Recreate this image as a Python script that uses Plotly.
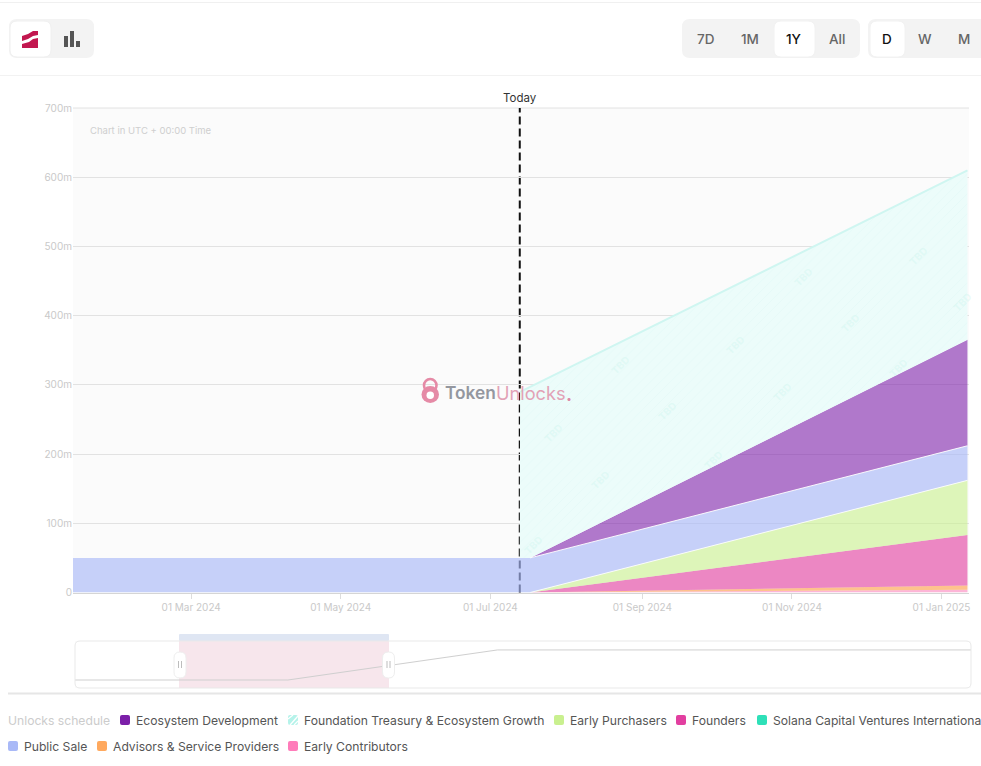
import numpy as np
import plotly.graph_objects as go

# ---------- data ----------
dates = ["2024-01-12", "2024-07-13 00:00", "2024-07-13 03:00", "2024-07-17 06:00", "2025-01-11 14:00"]
early_contributors = [0, 0, 0, 0, 4]
advisors = [0, 0, 0, 0, 6]
founders = [0, 0, 0, 0, 73]
early_purchasers = [0, 0, 0, 0, 79]
solana_capital = [0, 0, 0, 0, 0]
public_sale = [50, 50, 50, 50, 50]
ecosystem_dev = [0, 0, 0, 0, 153]
foundation = [0, 0, 240, 247, 245]

overview_dates = ["2023-07-12", "2024-07-17", "2025-07-17", "2027-10-20"]
overview_vals = [50, 50, 238, 238]

y_ticks = [0, 100, 200, 300, 400, 500, 600, 700]
y_labels = ["0", "100m", "200m", "300m", "400m", "500m", "600m", "700m"]
x_ticks = ["2024-03-01", "2024-05-01", "2024-07-01", "2024-09-01", "2024-11-01", "2025-01-01"]
x_labels = ["01 Mar 2024", "01 May 2024", "01 Jul 2024", "01 Sep 2024", "01 Nov 2024", "01 Jan 2025"]
today = "2024-07-13"

W, H = 981, 766
FONT = "Inter"

def px(x): return x / W
def py(y): return 1 - y / H

shapes, annos = [], []

def rrect(x0, y0, x1, y1, r, fill, line=None, lw=1, layer="below"):
    pts = [
        f"M{px(x0+r)},{py(y0)}", f"L{px(x1-r)},{py(y0)}", f"Q{px(x1)},{py(y0)} {px(x1)},{py(y0+r)}",
        f"L{px(x1)},{py(y1-r)}", f"Q{px(x1)},{py(y1)} {px(x1-r)},{py(y1)}",
        f"L{px(x0+r)},{py(y1)}", f"Q{px(x0)},{py(y1)} {px(x0)},{py(y1-r)}",
        f"L{px(x0)},{py(y0+r)}", f"Q{px(x0)},{py(y0)} {px(x0+r)},{py(y0)}", "Z"]
    shapes.append(dict(type="path", xref="paper", yref="paper", path=" ".join(pts), fillcolor=fill,
                       line=dict(color=line or "rgba(0,0,0,0)", width=lw if line else 0), layer=layer))

def poly(points, fill, layer="above"):
    p = "M" + " L".join(f"{px(a)},{py(b)}" for a, b in points) + " Z"
    shapes.append(dict(type="path", xref="paper", yref="paper", path=p, fillcolor=fill, line=dict(width=0), layer=layer))

def hline(y, x0, x1, color, w=1):
    shapes.append(dict(type="line", xref="paper", yref="paper", x0=px(x0), x1=px(x1), y0=py(y), y1=py(y),
                       line=dict(color=color, width=w), layer="below"))

def text(x, y, s, size=12, color="#555", anchor="left", weight=None, angle=0, family=FONT):
    f = dict(family=family, size=size, color=color)
    if weight: f["weight"] = weight
    annos.append(dict(xref="paper", yref="paper", x=px(x), y=py(y), text=s, showarrow=False, xanchor=anchor,
                      yanchor="middle", font=f, textangle=angle, borderpad=0, borderwidth=0))

# ---------- page furniture ----------
hline(2.5, 0, 981, "#f0f0f0", 1)
hline(75.5, 0, 981, "#f2f2f2", 1)
hline(108, 73, 969, "#e2e2e2", 1)

rrect(9, 19, 94, 58, 8, "#f3f3f3")
rrect(10, 21, 51, 57, 7, "#ffffff", "#f0f0f0")
poly([(22, 41), (22, 36), (28, 34), (33, 31), (38, 31), (38, 35), (33, 36), (28, 39)], "#c2174f")
poly([(22, 48), (22, 44), (29, 42), (33, 39), (38, 38), (38, 48)], "#c2174f")
poly([(64, 36), (68, 36), (68, 47), (64, 47)], "#555555")
poly([(70, 31), (74, 31), (74, 47), (70, 47)], "#555555")
poly([(76, 41), (80, 41), (80, 47), (76, 47)], "#555555")

rrect(682, 19, 860, 58, 8, "#f3f3f3")
rrect(774, 21, 815, 57, 7, "#ffffff", "#f2f2f2")
for x, s, c in [(705, "7D", "#666"), (750, "1M", "#666"), (794, "1Y", "#111"), (837, "All", "#666")]:
    text(x, 39, s, 13.5, c, "center", 500)
rrect(868, 19, 1000, 58, 8, "#f3f3f3")
rrect(870, 21, 905, 57, 7, "#ffffff", "#f2f2f2")
for x, s, c in [(887, "D", "#111"), (925, "W", "#666"), (964, "M", "#666")]:
    text(x, 39, s, 13.5, c, "center", 500)

# overview frame + selection
rrect(75, 641, 971, 688, 5, "#ffffff")
rrect(179, 634, 389, 641, 1, "#dfe6f3")
rrect(179, 641, 389, 688, 0.5, "#f7e6ec")
rrect(75, 641, 971, 688, 5, "rgba(255,255,255,0)", "#e9e9e9", 1, layer="above")
for hx in (180, 388.5):
    rrect(hx - 6, 652, hx + 6, 678, 6, "#ffffff", "#eeeeee", 1, layer="above")
    for dx in (-1.5, 1.5):
        shapes.append(dict(type="line", xref="paper", yref="paper", x0=px(hx + dx), x1=px(hx + dx),
                           y0=py(661), y1=py(668), line=dict(color="#bdbdbd", width=1), layer="above"))
hline(693.5, 8, 981, "#e6e6e6", 2)

# legend
LEG = 12.15
text(8, 720, "Unlocks schedule", LEG, "#cccccc")
def swatch(x, y, c):
    rrect(x, y - 5, x + 10, y + 5, 2, c, layer="above")
leg = [(120, 720, "#7b1fa8", "Ecosystem Development"), (554, 720, "#c9f08f", "Early Purchasers"),
       (676, 720, "#e23fa0", "Founders"), (757, 720, "#2ee0b8", "Solana Capital Ventures International"),
       (8, 746, "#a9b9f7", "Public Sale"), (97, 746, "#ffa95e", "Advisors & Service Providers"),
       (288, 746, "#ff7cba", "Early Contributors")]
for x, y, c, s in leg:
    swatch(x, y, c)
    text(x + 16, y, s, LEG, "#555555")
swatch(288, 720, "#b5f3ea")
for a, b, c, d in [(288, 719, 293, 715), (290, 725, 298, 716), (294, 725, 298, 721)]:
    shapes.append(dict(type="line", xref="paper", yref="paper", x0=px(a), y0=py(b), x1=px(c), y1=py(d),
                       line=dict(color="#ffffff", width=1.3), layer="above"))
text(304, 720, "Foundation Treasury & Ecosystem Growth", LEG, "#555555")

# annotations in the chart
text(90, 130.5, "Chart in UTC + 00:00 Time", 9.5, "#cfcfcf")
text(520, 98, "Today", 11.5, "#333333", "center")
for tx, ty in [(533, 545), (553, 433), (600, 480), (620, 365), (667, 411), (713, 460), (735, 345), (782, 392),
               (803, 277), (850, 323), (898, 368), (918, 256), (962, 302)]:
    text(tx, ty, "TBD", 10, "rgba(205,245,238,0.4)", "center", 700, -45)

# watermark
shapes.append(dict(type="circle", xref="paper", yref="paper", x0=px(421.5), x1=px(439), y0=py(403), y1=py(386),
                   fillcolor="#e58aa6", line=dict(width=0), layer="above"))
shapes.append(dict(type="circle", xref="paper", yref="paper", x0=px(424), x1=px(436.5), y0=py(392), y1=py(379),
                   fillcolor="rgba(0,0,0,0)", line=dict(color="#e58aa6", width=2.6), layer="above"))
shapes.append(dict(type="circle", xref="paper", yref="paper", x0=px(426.5), x1=px(434), y0=py(399), y1=py(391.5),
                   fillcolor="#ffffff", line=dict(width=0), layer="above"))
text(445, 393, "Token", 17.3, "#94979f", "left", 600)
text(495.5, 393, "Unlocks", 18.2, "#e2a2b6", "left", 400)
text(566, 393.5, ".", 18.2, "#dd8aa5", "left", 700)

# today line
shapes.append(dict(type="line", xref="x", yref="paper", x0=today, x1=today, y0=py(592.5), y1=py(108),
                   line=dict(color="#111111", width=2, dash="8px,4px"), layer="below"))

# ---------- traces ----------
fig = go.Figure()
series = [
    ("Early Contributors", early_contributors, "rgba(255,124,186,0.55)"),
    ("Advisors & Service Providers", advisors, "rgba(255,169,94,0.7)"),
    ("Founders", founders, "rgba(226,63,160,0.62)"),
    ("Solana Capital Ventures International", solana_capital, "rgba(46,224,184,0.6)"),
    ("Early Purchasers", early_purchasers, "rgba(201,240,143,0.62)"),
    ("Public Sale", public_sale, "rgba(169,185,247,0.65)"),
    ("Ecosystem Development", ecosystem_dev, "rgba(122,26,168,0.58)"),
]
for name, vals, col in series:
    fig.add_trace(go.Scatter(x=dates, y=vals, name=name, stackgroup="a", mode="lines", fillcolor=col,
                             line=dict(width=0), hoverinfo="skip"))
fig.add_trace(go.Scatter(x=dates, y=foundation, name="Foundation Treasury & Ecosystem Growth", stackgroup="a",
                         mode="lines", line=dict(width=0), hoverinfo="skip",
                         fillpattern=dict(shape="/", size=7, solidity=0.1, fgcolor="#e2faf6", bgcolor="#ecfcfa",
                                          fillmode="replace")))

# edge lines follow the stack
base = np.array(early_contributors) + np.array(advisors) + np.array(founders) + np.array(solana_capital)
ep_top = base + np.array(early_purchasers)
ps_top = ep_top + np.array(public_sale)
eco_top = ps_top + np.array(ecosystem_dev)
f_top = eco_top + np.array(foundation)
for yy, c, w, i0 in [(ep_top, "rgba(255,255,255,0.85)", 1, 3), (ps_top, "rgba(255,255,255,0.9)", 1, 3),
                     (f_top, "#cff6f1", 2, 2)]:
    fig.add_trace(go.Scatter(x=dates[i0:], y=yy[i0:], mode="lines", line=dict(color=c, width=w),
                             hoverinfo="skip", showlegend=False))

fig.add_trace(go.Scatter(x=overview_dates, y=overview_vals, mode="lines", xaxis="x2", yaxis="y2",
                         line=dict(color="#cfcfcf", width=1), hoverinfo="skip", showlegend=False))

tick_font = dict(family=FONT, size=10, color="#c9c9c9")
fig.update_layout(
    width=W, height=H, margin=dict(l=0, r=0, t=0, b=0, pad=0), autosize=False,
    paper_bgcolor="#ffffff", plot_bgcolor="#fbfbfb", showlegend=False,
    shapes=shapes, annotations=annos,
    xaxis=dict(domain=[px(73), px(969)], type="date", range=["2024-01-12 19:00", "2025-01-12 05:00"], automargin=False,
               tickmode="array", tickvals=x_ticks, ticktext=x_labels, tickfont=tick_font, tickangle=0,
               ticks="outside", ticklen=5, tickcolor="#dddddd", showgrid=False, showline=True,
               linecolor="#d5d5d5", linewidth=1, zeroline=False, fixedrange=True),
    yaxis=dict(domain=[py(592.5), py(108)], range=[0, 700], tickmode="array", tickvals=y_ticks, ticktext=y_labels,
               automargin=False, tickfont=tick_font, ticks="", showgrid=True, gridcolor="#e2e2e2", gridwidth=1,
               zeroline=False, showline=False, fixedrange=True),
    xaxis2=dict(domain=[px(75), px(971)], type="date", range=[overview_dates[0], overview_dates[-1]], anchor="y2",
                visible=False, fixedrange=True, automargin=False),
    yaxis2=dict(domain=[py(688), py(641)], range=[0, 294], anchor="x2", visible=False, fixedrange=True, automargin=False),
)

fig.write_html("out.html", config=dict(displayModeBar=False),
               post_script="document.body.style.margin='0';document.documentElement.style.overflow='hidden';")
